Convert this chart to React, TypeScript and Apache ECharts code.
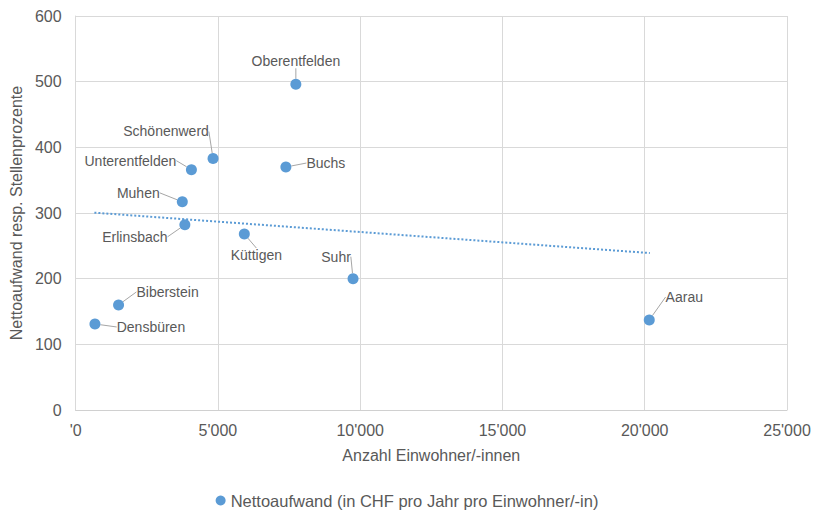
import React, { useEffect, useRef } from "react";
import * as echarts from "echarts";

// Municipalities and their values
const gemeinden = [
  "Oberentfelden",
  "Schönenwerd",
  "Unterentfelden",
  "Buchs",
  "Muhen",
  "Erlinsbach",
  "Küttigen",
  "Suhr",
  "Aarau",
  "Biberstein",
  "Densbüren",
];
const einwohner = [7740, 4830, 4070, 7390, 3750, 3840, 5930, 9750, 20160, 1510, 680];
const nettoaufwand = [496, 383, 366, 370, 317, 282, 268, 200, 137, 160, 131];

// Linear trend line endpoints
const trendX = [660, 20180];
const trendY = [300.5, 239];

const seriesName = "Nettoaufwand (in CHF pro Jahr pro Einwohner/-in)";
const xTitle = "Anzahl Einwohner/-innen";
const yTitle = "Nettoaufwand resp. Stellenprozente";

// Label placement relative to each point (dx, dy in px)
const labelShift: Record<string, [number, number]> = {
  Oberentfelden: [0, -23],
  Schönenwerd: [-47, -27],
  Unterentfelden: [-61, -9],
  Buchs: [40, -4],
  Muhen: [-44, -9],
  Erlinsbach: [-50, 12],
  Küttigen: [12, 21],
  Suhr: [-17, -22],
  Aarau: [35, -23],
  Biberstein: [49, -13],
  Densbüren: [56, 3],
};

const FONT = "'Liberation Sans', Arial, sans-serif";
const TEXT = "#595959";
const BLUE = "#5b9bd5";

const fmtThousands = (v: number) =>
  v === 0 ? "'0" : String(Math.round(v)).replace(/\B(?=(\d{3})+(?!\d))/g, "'");

export default function App() {
  const ref = useRef<HTMLDivElement>(null);

  useEffect(() => {
    if (!ref.current) return;
    const chart = echarts.init(ref.current, undefined, { renderer: "svg" });

    const points = gemeinden.map((name, i) => ({
      name,
      value: [einwohner[i], nettoaufwand[i]],
    }));

    chart.setOption({
      animation: false,
      backgroundColor: "#ffffff",
      textStyle: { fontFamily: FONT },
      grid: { left: 72, right: 27, top: 16, bottom: 101 },
      legend: {
        data: [seriesName],
        left: "center",
        top: 492,
        padding: 0,
        icon: "circle",
        itemWidth: 10,
        itemHeight: 10,
        textStyle: { color: TEXT, fontSize: 16.5, fontFamily: FONT },
      },
      xAxis: {
        type: "value",
        min: 0,
        max: 25000,
        interval: 5000,
        name: xTitle,
        nameLocation: "middle",
        nameGap: 37,
        nameTextStyle: { color: TEXT, fontSize: 16, fontFamily: FONT },
        axisLine: { show: true, lineStyle: { color: "#d0d0d0" } },
        axisTick: { show: false },
        axisLabel: {
          color: TEXT,
          fontSize: 16,
          margin: 12,
          fontFamily: FONT,
          formatter: fmtThousands,
        },
        splitLine: { lineStyle: { color: "#d9d9d9" } },
      },
      yAxis: {
        type: "value",
        min: 0,
        max: 600,
        interval: 100,
        name: yTitle,
        nameLocation: "middle",
        nameGap: 47,
        nameTextStyle: { color: TEXT, fontSize: 16, fontFamily: FONT },
        axisLine: { show: true, lineStyle: { color: "#d9d9d9" } },
        axisTick: { show: false },
        axisLabel: { color: TEXT, fontSize: 16, margin: 14, fontFamily: FONT },
        splitLine: { lineStyle: { color: "#d9d9d9" } },
      },
      series: [
        {
          name: "Trend",
          type: "line",
          data: trendX.map((x, i) => [x, trendY[i]]),
          symbol: "none",
          lineStyle: { color: BLUE, width: 2, type: [2, 2] },
          silent: true,
          z: 1,
        },
        {
          name: seriesName,
          type: "scatter",
          data: points,
          symbolSize: 11,
          itemStyle: { color: BLUE, opacity: 1 },
          z: 3,
          label: {
            show: true,
            position: "inside",
            formatter: "{b}",
            color: TEXT,
            fontSize: 14,
            fontFamily: FONT,
          },
          labelLine: {
            show: true,
            lineStyle: { color: "#a6a6a6", width: 1 },
          },
          labelLayout: (params: any) => {
            const s = labelShift[gemeinden[params.dataIndex]] || [0, 0];
            return { dx: s[0], dy: s[1] };
          },
        },
      ],
    });

    return () => chart.dispose();
  }, []);

  return (
    <div
      ref={ref}
      style={{ position: "absolute", left: 0, top: 0, width: 814, height: 511 }}
    />
  );
}
